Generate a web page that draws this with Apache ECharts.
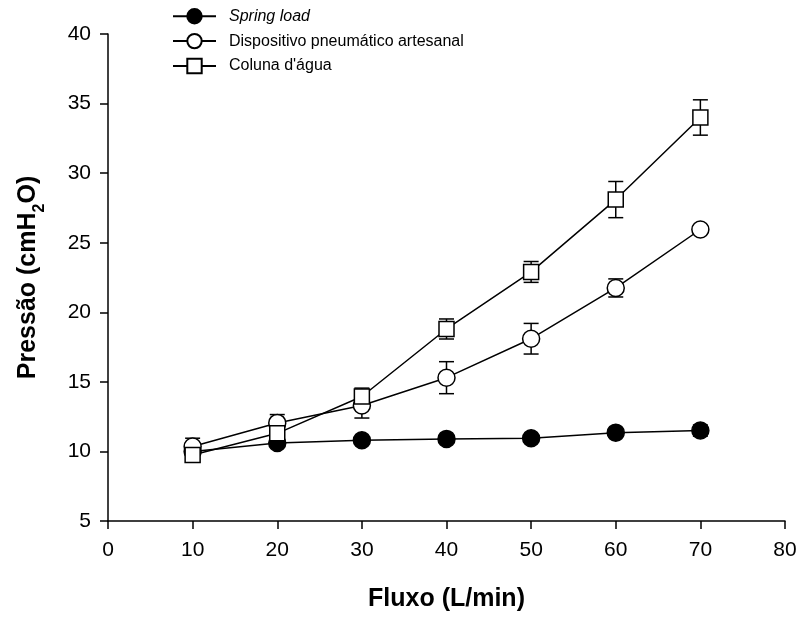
<!DOCTYPE html>
<html>
<head>
<meta charset="utf-8">
<script src="https://cdn.jsdelivr.net/npm/echarts@6/dist/echarts.min.js"></script>
<style>
  html, body { margin: 0; padding: 0; background: #fff; }
  #chart { width: 802px; height: 618px; }
</style>
</head>
<body>
<div id="chart"></div>
<script>
'use strict';

// fluxo (L/min)
var flows = [10, 20, 30, 40, 50, 60, 70];

// pressure means and error (+/-)
var springMean = [10.0, 10.6, 10.8, 10.9, 10.95, 11.35, 11.5];
var springErr = [0.2, 0.2, 0.2, 0.2, 0.25, 0.3, 0.4];

var pneuMean = [10.35, 12.05, 13.3, 15.3, 18.1, 21.75, 25.95];
var pneuErr = [0.6, 0.6, 0.9, 1.15, 1.1, 0.65, 0.3];

var colunaMean = [9.75, 11.3, 13.95, 18.8, 22.9, 28.1, 34.0];
var colunaErr = [0.3, 0.3, 0.6, 0.72, 0.75, 1.3, 1.27];

var names = ['Spring load', 'Dispositivo pneumático artesanal', 'Coluna d\'água'];

function pairs(means){
  return flows.map(function(f, i){ return [f, means[i]]; });
}
function errData(means, errs){
  return flows.map(function(f, i){ return [f, means[i] - errs[i], means[i] + errs[i]]; });
}

function renderErr(params, api){
  var x = api.value(0);
  var lo = api.coord([x, api.value(1)]);
  var hi = api.coord([x, api.value(2)]);
  var cap = 7.5;
  var st = { stroke: '#000', lineWidth: 1.5 };
  return {
    type: 'group',
    children: [
      { type: 'line', shape: { x1: lo[0], y1: lo[1], x2: hi[0], y2: hi[1] }, style: st },
      { type: 'line', shape: { x1: lo[0] - cap, y1: lo[1], x2: lo[0] + cap, y2: lo[1] }, style: st },
      { type: 'line', shape: { x1: hi[0] - cap, y1: hi[1], x2: hi[0] + cap, y2: hi[1] }, style: st }
    ]
  };
}

var chart = echarts.init(document.getElementById('chart'));
var font = 'Liberation Sans, Arial, sans-serif';

function lineSeries(name, means, symbol, fill, size){
  return {
    name: name,
    type: 'line',
    data: pairs(means),
    symbol: symbol,
    symbolSize: size,
    showAllSymbol: true,
    z: 3,
    lineStyle: { color: '#000', width: 1.5 },
    itemStyle: { color: fill, borderColor: '#000', borderWidth: 1.5 },
    emphasis: { disabled: true }
  };
}
function errSeries(means, errs){
  return {
    type: 'custom',
    renderItem: renderErr,
    data: errData(means, errs),
    z: 2,
    silent: true
  };
}

var option = {
  animation: false,
  textStyle: { fontFamily: font },
  grid: { left: 108, right: 17, top: 34, bottom: 97 },
  legend: {
    orient: 'vertical',
    left: 172,
    top: 8,
    padding: 0,
    itemGap: 8.5,
    itemWidth: 43,
    itemHeight: 18,
    data: names,
    formatter: function(n){
      return n === 'Spring load' ? '{i|' + n + '}' : n;
    },
    textStyle: {
      fontFamily: font, fontSize: 16, color: '#000',
      padding: [0, 0, 0, 8],
      rich: { i: { fontStyle: 'italic', fontSize: 16, fontFamily: font, color: '#000' } }
    }
  },
  xAxis: {
    type: 'value',
    min: 0, max: 80, interval: 10,
    name: 'Fluxo (L/min)',
    nameLocation: 'middle',
    nameGap: 66,
    nameTextStyle: { fontSize: 25, fontWeight: 'bold', color: '#000', fontFamily: font },
    axisLine: { lineStyle: { color: '#000', width: 1.5 } },
    axisTick: { show: true, length: 8, lineStyle: { color: '#000', width: 1.5 } },
    axisLabel: { color: '#000', fontSize: 21, margin: 19, fontFamily: font },
    splitLine: { show: false }
  },
  yAxis: {
    type: 'value',
    min: 5, max: 40, interval: 5,
    name: '{a|Pressão (cmH}{s|2}{a|O)}',
    nameLocation: 'middle',
    nameGap: 67,
    nameTextStyle: {
      fontSize: 25, fontWeight: 'bold', color: '#000', fontFamily: font,
      rich: {
        a: { fontSize: 25, fontWeight: 'bold', color: '#000', fontFamily: font, lineHeight: 32, verticalAlign: 'bottom' },
        s: { fontSize: 16, fontWeight: 'bold', color: '#000', fontFamily: font, lineHeight: 32, verticalAlign: 'bottom', padding: [0, 0, -7, 0] }
      }
    },
    axisLine: { show: true, lineStyle: { color: '#000', width: 1.5 } },
    axisTick: { show: true, length: 8, lineStyle: { color: '#000', width: 1.5 } },
    axisLabel: { color: '#000', fontSize: 21, margin: 17, fontFamily: font },
    splitLine: { show: false }
  },
  series: [
    errSeries(springMean, springErr),
    errSeries(pneuMean, pneuErr),
    errSeries(colunaMean, colunaErr),
    lineSeries(names[0], springMean, 'circle', '#000', 17),
    lineSeries(names[1], pneuMean, 'circle', '#fff', 17),
    lineSeries(names[2], colunaMean, 'rect', '#fff', 15)
  ]
};

chart.setOption(option);
</script>
</body>
</html>
